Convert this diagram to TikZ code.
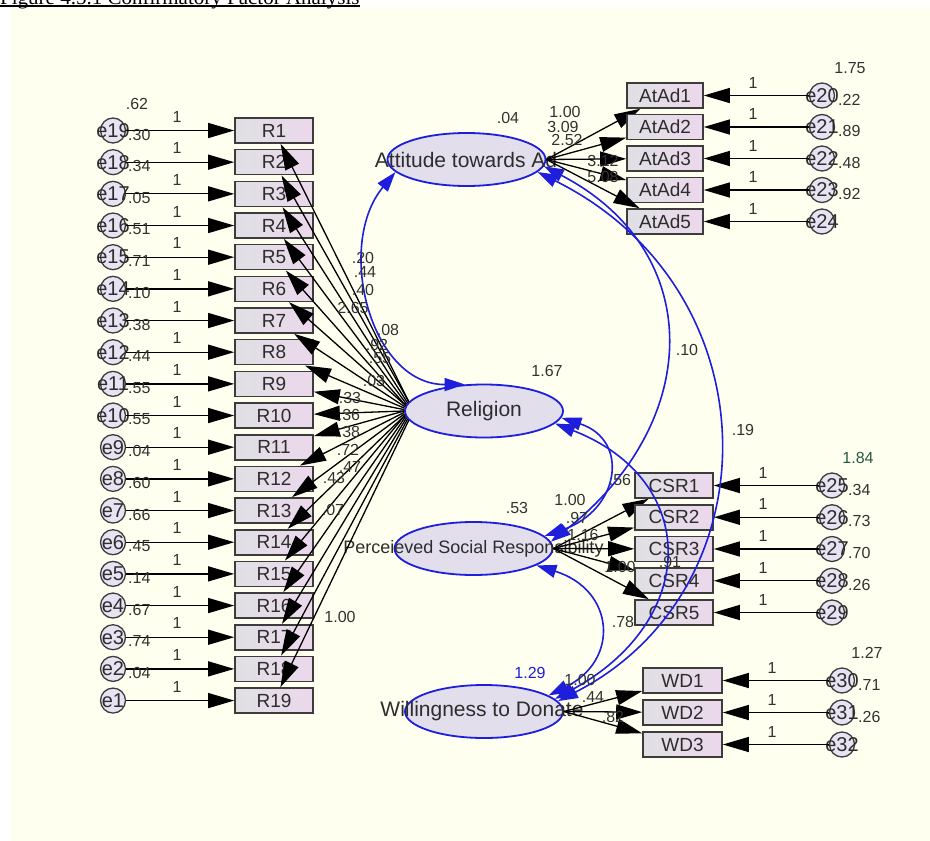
\documentclass[tikz,border=0pt]{standalone}
\usepackage{fontspec}
\setmainfont{Liberation Sans}
\newfontfamily\titlefont{Liberation Serif}
\usetikzlibrary{arrows.meta,shapes.geometric}
\definecolor{bg}{RGB}{255,255,240}
\definecolor{boxL}{RGB}{224,224,228}
\definecolor{boxR}{RGB}{236,216,236}
\definecolor{boxd}{RGB}{60,60,60}
\definecolor{ellfill}{RGB}{226,222,236}
\definecolor{errfill}{RGB}{232,226,242}
\definecolor{covblue}{RGB}{30,30,220}
\definecolor{txt}{RGB}{45,45,45}
\definecolor{numc}{RGB}{50,50,50}
\definecolor{greenish}{RGB}{40,90,70}
\tikzset{
  obs/.style={rectangle, draw=boxd, line width=1.6pt, left color=boxL, right color=boxR,
    minimum width=78pt, minimum height=25pt, inner sep=0pt, text=txt,
    font=\fontsize{19}{19}\selectfont},
  err/.style={circle, draw=boxd, line width=1.3pt, fill=errfill, minimum size=25pt,
    inner sep=0pt, text=txt, font=\fontsize{20}{20}\selectfont},
  lat/.style={ellipse, draw=covblue, line width=1.8pt, fill=ellfill,
    minimum width=158pt, minimum height=53pt, inner sep=0pt},
  lattext/.style={text=txt, inner sep=0pt, font=\fontsize{21}{21}\selectfont},
  load/.style={draw=black, line width=1.3pt, -{Triangle[length=26pt,width=15pt]}},
  cov/.style={draw=covblue, line width=1.6pt,
    {Triangle[length=20pt,width=13pt]}-{Triangle[length=20pt,width=13pt]}},
  num/.style={text=numc, inner sep=0pt, font=\fontsize{16}{16}\selectfont},
}
\newcommand{\zw}[1]{\makebox[0pt]{#1}}
\begin{document}
\begin{tikzpicture}[x=1pt,y=-1pt]
\useasboundingbox (0,0) rectangle (930,841);
\fill[white] (0,0) rectangle (930,841);
\fill[bg] (10,7) rectangle (930,841);
\begin{scope}
  \clip (0,0) rectangle (930,841);
  \node[font=\titlefont\fontsize{21}{21}\selectfont, anchor=base west, inner sep=0pt] (title) at (0,4) {Figure 4.5.1 Confirmatory Factor Analysis};
  \draw[line width=1.3pt] ([yshift=-2pt]title.base west) -- ([yshift=-2pt]title.base east);
\end{scope}

% ---------- latent variables ----------
\node[lat] (att) at (466.5,159.5) {};
\node[lattext] (attT) at (466,159.5) {Attitude towards Ad};
\node[lat] (rel) at (484,411) {};
\node[lattext] (relT) at (484,411) {Religion};
\node[lat] (psr) at (473.5,548.5) {};
\node[lattext, font=\fontsize{18}{18}\selectfont] (psrT) at (473.5,548.5) {Perceieved Social Responsibility};
\node[lat] (wd) at (484,711.5) {};
\node[lattext] (wdT) at (482,711.5) {Willingness to Donate};

% ---------- Religion block ----------
\foreach \i in {1,...,19}{
  \pgfmathsetmacro\yy{130.5+(\i-1)*31.67}
  \pgfmathtruncatemacro\ee{20-\i}
  \node[obs] (R\i) at (274,\yy) {R\i};
  \node[err] (e\ee) at (113,\yy) {\zw{e\ee}};
  \draw[load] (e\ee) -- (R\i);
  \node[num] (oneR\i) at (177,\yy-14) {1};
}
\foreach \i in {1,...,19}{
  \pgfmathtruncatemacro\ang{173+(\i-1)*14/18}
  \draw[load] (rel.\ang) -- (R\i);
}
\foreach \v [count=\i] in {.30,.34,.05,.51,.71,.10,.38,.44,.55,.55,.04,.60,.66,.45,.14,.67,.74,.04}{
  \pgfmathsetmacro\yy{130.5+(\i-1)*31.67}
  \node[num, anchor=west] (vR\i) at (128,\yy+4) {\v};
}
\node[num] (v62) at (137,104) {.62};

% ---------- Attitude block ----------
\foreach \j in {1,...,5}{
  \pgfmathsetmacro\yy{95.5+(\j-1)*31.5}
  \pgfmathtruncatemacro\ee{19+\j}
  \node[obs, minimum width=76pt] (A\j) at (665,\yy) {AtAd\j};
  \node[err] (e\ee) at (822,\yy) {\zw{e\ee}};
  \draw[load] (e\ee) -- (A\j);
  \node[num] (oneA\j) at (753,\yy-13) {1};
  \draw[load] (att.east) -- (A\j);
}
\foreach \v [count=\j] in {.22,.89,.48,.92}{
  \pgfmathsetmacro\yy{95.5+(\j-1)*31.5}
  \node[num, anchor=west] (vA\j) at (838,\yy+4) {\v};
}
\node[num] (v175) at (850,68) {1.75};

% ---------- CSR block ----------
\foreach \k in {1,...,5}{
  \pgfmathsetmacro\yy{485.5+(\k-1)*31.75}
  \pgfmathtruncatemacro\ee{24+\k}
  \node[obs] (C\k) at (674,\yy) {CSR\k};
  \node[err] (e\ee) at (832,\yy) {\zw{e\ee}};
  \draw[load] (e\ee) -- (C\k);
  \node[num] (oneC\k) at (763,\yy-13) {1};
  \draw[load] (psr.east) -- (C\k);
}
\foreach \v [count=\k] in {.34,.73,.70,.26}{
  \pgfmathsetmacro\yy{485.5+(\k-1)*31.75}
  \node[num, anchor=west] (vC\k) at (848,\yy+4) {\v};
}
\node[num, text=greenish] (v184) at (858,458) {1.84};

% ---------- WD block ----------
\foreach \m/\yy in {1/680.5,2/712.5,3/744.5}{
  \pgfmathtruncatemacro\ee{29+\m}
  \node[obs, minimum width=79pt] (W\m) at (682.5,\yy) {WD\m};
  \node[err] (e\ee) at (842,\yy) {\zw{e\ee}};
  \draw[load] (e\ee) -- (W\m);
  \node[num] (oneW\m) at (772,\yy-13) {1};
  \draw[load] (wd.east) -- (W\m);
}
\node[num, anchor=west] (vW1) at (858,685) {.71};
\node[num, anchor=west] (vW2) at (858,717) {.26};
\node[num] (v127) at (867,653) {1.27};

% ---------- covariances ----------
\draw[cov] (att.190) .. controls (335,245) and (370,385) .. (rel.126);
\draw[cov] (att.355) .. controls (705,250) and (705,420) .. (psr.5);
\draw[cov] (att.350) .. controls (775,290) and (775,590) .. (wd.8);
\draw[cov] (rel.355) .. controls (630,440) and (620,510) .. (psr.10);
\draw[cov] (rel.350) .. controls (700,480) and (700,620) .. (wd.10);
\draw[cov] (psr.345) .. controls (615,590) and (620,660) .. (wd.14);

% ---------- labels ----------
\node[num] (v04) at (508,118) {.04};
\node[num] (v167) at (547,371) {1.67};
\node[num] (v53) at (517,508) {.53};
\node[num, text=covblue] (v129) at (530,673) {1.29};
\node[num] (c10) at (687,350) {.10};
\node[num] (c19) at (743,430) {.19};

\node[num] (lA1) at (565,112) {1.00};
\node[num] (lA2) at (563,127) {3.09};
\node[num] (lA3) at (567,140) {2.52};
\node[num] (lA4) at (603,161) {3.12};
\node[num] (lA5) at (603,177) {5.08};

\node[num] (lR1) at (363,258) {.20};
\node[num] (lR2) at (365,272) {.44};
\node[num] (lR3) at (363,290) {.40};
\node[num] (lR4) at (353,308) {2.65};
\node[num] (lR5) at (388,330) {.08};
\node[num] (lR6) at (377,345) {.92};
\node[num] (lR7) at (380,358) {.55};
\node[num] (lR8) at (374,381) {.03};
\node[num] (lR9) at (350,398) {.33};
\node[num] (lR10) at (349,415) {.36};
\node[num] (lR11) at (349,432) {.38};
\node[num] (lR12) at (348,450) {.72};
\node[num] (lR13) at (350,467) {.47};
\node[num] (lR14) at (334,478) {.43};
\node[num] (lR16) at (333,510) {.07};
\node[num] (lR19) at (340,617) {1.00};

\node[num] (lC1) at (620,480) {.56};
\node[num] (lC2) at (570,500) {1.00};
\node[num] (lC3) at (577,518) {.97};
\node[num] (lC4) at (583,535) {1.16};
\node[num] (lC5) at (620,567) {1.00};
\node[num] (lC6) at (670,562) {.91};
\node[num] (lC7) at (623,622) {.78};

\node[num] (lW1) at (580,680) {1.00};
\node[num] (lW2) at (593,697) {.44};
\node[num] (lW3) at (613,717) {.82};
\end{tikzpicture}
\end{document}
